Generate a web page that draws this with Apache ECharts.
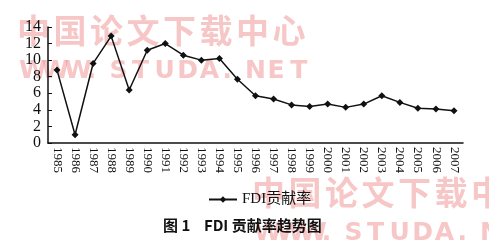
<!DOCTYPE html>
<html><head><meta charset="utf-8">
<script src="https://cdn.jsdelivr.net/npm/echarts@6/dist/echarts.min.js"></script>
<style>html,body{margin:0;padding:0;background:#fff}#c{width:489px;height:247px}</style>
</head><body><div id="c"></div>
<script>
const years = ['1985','1986','1987','1988','1989','1990','1991','1992','1993','1994','1995','1996','1997','1998','1999','2000','2001','2002','2003','2004','2005','2006','2007'];
const fdiRate = [8.8,1.0,9.6,12.9,6.4,11.2,12.0,10.6,10.0,10.2,7.7,5.7,5.3,4.6,4.4,4.7,4.3,4.7,5.7,4.9,4.2,4.1,3.9];
const yTicks = [0,2,4,6,8,10,12,14];
const seriesName = 'FDI贡献率';
const figTitle = '图 1    FDI 贡献率趋势图';
const wmCn = '中国论文下载中心';
const wmEn = 'WWW.STUDA.NET';

const serif = '"Liberation Serif","DejaVu Serif",serif';
const chart = echarts.init(document.getElementById('c'));
const wm = 'rgba(242,160,160,0.6)';

function watermark(ox, oy) {
  const out = [];
  [...wmCn].forEach((ch, i) => out.push({type: 'text', x: ox + i * 36.5, y: oy, z: -10,
    style: {text: ch, font: 'bold 33px "Noto Sans CJK SC", sans-serif', fill: wm}}));
  [...wmEn].forEach((ch, i) => out.push({type: 'text', x: ox + 2 + i * 22.6, y: oy + 45, z: -10,
    style: {text: ch, font: 'bold 25px "DejaVu Sans", sans-serif', fill: wm}}));
  return out;
}

chart.setOption({
  animation: false,
  grid: {left: 48, right: 26, top: 27, bottom: 104},
  legend: {
    data: [seriesName], left: 203, top: 187,
    itemWidth: 28, itemHeight: 8, itemGap: 4,
    textStyle: {fontFamily: '"Liberation Serif","Noto Sans CJK SC",serif', fontSize: 15, color: '#111'}
  },
  xAxis: {
    type: 'category', data: years, boundaryGap: true,
    axisLine: {lineStyle: {color: '#111', width: 1.5}},
    axisTick: {inside: true, length: 4, lineStyle: {color: '#111'}},
    axisLabel: {rotate: -90, fontFamily: serif, fontSize: 13, color: '#111', margin: 4, interval: 0}
  },
  yAxis: {
    type: 'value', min: yTicks[0], max: yTicks[yTicks.length-1], interval: 2,
    splitLine: {show: false},
    axisLine: {show: true, lineStyle: {color: '#111', width: 1.5}},
    axisTick: {show: true, inside: true, length: 4, lineStyle: {color: '#111'}},
    axisLabel: {fontFamily: serif, fontSize: 16, color: '#111', margin: 7}
  },
  series: [{
    name: seriesName, type: 'line', data: fdiRate,
    symbol: 'diamond', symbolSize: 7,
    lineStyle: {color: '#111', width: 1.5},
    itemStyle: {color: '#111'}
  }],
  graphic: [
    {type: 'text', left: 163, top: 218, style: {text: figTitle, font: 'bold 15px "Noto Sans CJK SC", sans-serif', fill: '#111'}},
    ...watermark(17, 14),
    ...watermark(252, 176)
  ]
});
</script></body></html>
